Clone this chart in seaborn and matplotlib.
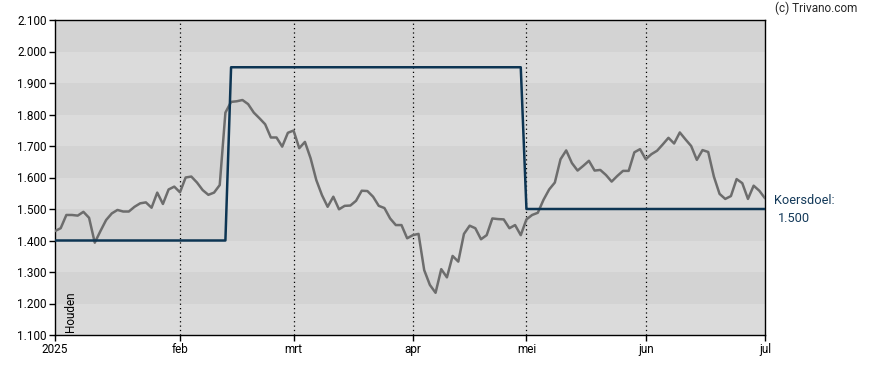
import numpy as np
import pandas as pd
import matplotlib
matplotlib.use('Agg')
import matplotlib.pyplot as plt
import seaborn as sns

# handelsdagen 2 jan t/m 1 jul 2025 (beurs dicht op goede vrijdag, paasmaandag, 1 mei)
vrije_dagen = ['2025-04-18', '2025-04-21', '2025-05-01']
handelsdagen = pd.bdate_range('2025-01-02', '2025-07-01', freq='C', holidays=vrije_dagen)

maand_labels = ['2025', 'feb', 'mrt', 'apr', 'mei', 'jun', 'jul']
maand_starts = ['2025-01-02', '2025-02-03', '2025-03-03', '2025-04-01',
                '2025-05-02', '2025-06-02', '2025-07-01']

koers = [1430, 1439, 1481, 1481, 1479, 1491, 1472, 1393, 1430, 1465,
         1486, 1497, 1492, 1492, 1507, 1518, 1521, 1504, 1552, 1516,
         1562, 1571, 1553, 1600, 1603, 1584, 1560, 1545, 1552, 1576,
         1806, 1840, 1842, 1846, 1833, 1806, 1788, 1769, 1727, 1727,
         1698, 1742, 1749, 1693, 1713, 1661, 1592, 1544, 1507, 1539,
         1499, 1510, 1511, 1526, 1558, 1557, 1539, 1510, 1503, 1470,
         1449, 1449, 1407, 1417, 1421, 1306, 1259, 1234, 1309, 1283,
         1351, 1333, 1421, 1447, 1439, 1404, 1417, 1470, 1468, 1467,
         1439, 1449, 1417, 1467, 1481, 1488, 1529, 1562, 1584, 1658,
         1686, 1646, 1622, 1637, 1653, 1622, 1624, 1608, 1587, 1605,
         1621, 1621, 1680, 1690, 1658, 1674, 1685, 1705, 1726, 1708,
         1743, 1721, 1700, 1656, 1687, 1681, 1603, 1548, 1532, 1541,
         1595, 1582, 1532, 1574, 1558, 1534]

# koersdoel: knikpunten (datum, waarde)
doel_datums = ['2025-01-02', '2025-02-13', '2025-02-14', '2025-04-30', '2025-05-02', '2025-07-01']
doel_waarden = [1400, 1400, 1950, 1950, 1500, 1500]

y_ticks = [1100, 1200, 1300, 1400, 1500, 1600, 1700, 1800, 1900, 2000, 2100]

sns.set_style('white')
plt.rcParams['font.family'] = ['Roboto', 'DejaVu Sans']

dag_index = {d: i for i, d in enumerate(handelsdagen)}
df = pd.DataFrame({'dag': np.arange(len(koers)), 'koers': koers})
df_doel = pd.DataFrame({'dag': [dag_index[pd.Timestamp(d)] for d in doel_datums],
                        'doel': doel_waarden})
maand_pos = [dag_index[pd.Timestamp(d)] for d in maand_starts]

fig = plt.figure(figsize=(8.88, 3.70), dpi=100)
ax = fig.add_axes([55 / 888, 35 / 370, 710 / 888, 315 / 370])

# afwisselende banden
for i, lo in enumerate(y_ticks[:-1]):
    kleur = '#d3d3d3' if i % 2 == 1 else '#dbdbdb'
    ax.axhspan(lo, lo + 100, color=kleur, lw=0, zorder=0)

for p in maand_pos[1:-1]:
    ax.axvline(p, color='black', ls=(0, (1, 2.5)), lw=0.9, zorder=1)

sns.lineplot(data=df, x='dag', y='koers', ax=ax, color='#6d6d6d', lw=1.8, zorder=3)
sns.lineplot(data=df_doel, x='dag', y='doel', ax=ax, color='#0d3553', lw=1.8, zorder=4)

ax.set_xlim(0, len(koers) - 1)
ax.set_ylim(1100, 2100)
ax.set_yticks(y_ticks)
ax.set_yticklabels([f'{v:,}'.replace(',', '.') for v in y_ticks])
ax.set_xticks(maand_pos)
ax.set_xticklabels(maand_labels)
ax.set_xlabel('')
ax.set_ylabel('')
ax.tick_params(axis='both', direction='out', length=4, width=1, colors='black',
               labelsize=8.5, pad=2, left=True, bottom=True)
for s in ax.spines.values():
    s.set_visible(True)
    s.set_color('black')
    s.set_linewidth(1)

ax.text(0.012, 0.01, 'Houden', rotation=90, transform=ax.transAxes,
        ha='left', va='bottom', fontsize=8.5, color='black')

fig.text(775 / 888, 1 - 8 / 370, '(c) Trivano.com', ha='left', va='center', fontsize=8.5)
fig.text(774 / 888, 1 - 201 / 370, 'Koersdoel:', ha='left', va='center',
         fontsize=9.2, color='#143a5a')
fig.text(778 / 888, 1 - 218 / 370, '1.500', ha='left', va='center',
         fontsize=9.2, color='#143a5a')

fig.savefig('out.png', dpi=100)
